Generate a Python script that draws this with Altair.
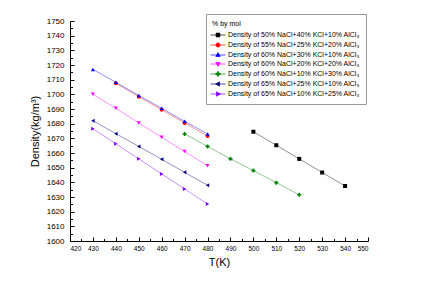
import altair as alt
import pandas as pd

series = [
    "Density of 50% NaCl+40% KCl+10% AlCl₃",
    "Density of 55% NaCl+25% KCl+20% AlCl₃",
    "Density of 60% NaCl+30% KCl+10% AlCl₃",
    "Density of 60% NaCl+20% KCl+20% AlCl₃",
    "Density of 60% NaCl+10% KCl+30% AlCl₃",
    "Density of 65% NaCl+25% KCl+10% AlCl₃",
    "Density of 65% NaCl+10% KCl+25% AlCl₃",
]
colors = ["#000000", "#ff0000", "#0000ff", "#ff00ff", "#008000", "#000080", "#8000ff"]
shapes = ["square", "circle", "triangle-up", "triangle-down", "cross", "triangle-left", "triangle-right"]
legend_paths = [
    "M-1.43,0H1.43M-0.36,-0.36H0.36V0.36H-0.36Z",
    "M-1.43,0H1.43M0.4,0A0.4,0.4 0 1,1 -0.4,0A0.4,0.4 0 1,1 0.4,0Z",
    "M-1.43,0H1.43M0,-0.46L0.42,0.3H-0.42Z",
    "M-1.43,0H1.43M0,0.46L0.42,-0.3H-0.42Z",
    "M-1.43,0H1.43M-0.13,-0.42H0.13V-0.13H0.42V0.13H0.13V0.42H-0.13V0.13H-0.42V-0.13H-0.13Z",
    "M-1.43,0H1.43M-0.46,0L0.3,-0.42V0.42Z",
    "M-1.43,0H1.43M0.46,0L-0.3,-0.42V0.42Z",
]

T1 = [500, 510, 520, 530, 540]
D1 = [1674.5, 1665.3, 1656.0, 1646.7, 1637.5]
T2 = [440, 450, 460, 470, 480]
D2 = [1707.6, 1698.4, 1689.5, 1680.5, 1671.6]
T3 = [430, 440, 450, 460, 470, 480]
D3 = [1717.0, 1708.2, 1699.2, 1690.5, 1681.6, 1673.0]
T4 = [430, 440, 450, 460, 470, 480]
D4 = [1700.0, 1690.5, 1680.5, 1670.7, 1661.0, 1651.3]
T5 = [470, 480, 490, 500, 510, 520]
D5 = [1673.0, 1664.5, 1656.0, 1648.0, 1639.8, 1631.5]
T6 = [430, 440, 450, 460, 470, 480]
D6 = [1682.0, 1673.2, 1664.5, 1655.7, 1646.8, 1638.0]
T7 = [430, 440, 450, 460, 470, 480]
D7 = [1676.5, 1666.3, 1656.0, 1645.7, 1635.5, 1625.2]

x_major = list(range(420, 551, 10))
x_minor = list(range(425, 550, 10))
y_major = list(range(1600, 1751, 10))
y_minor = list(range(1605, 1750, 10))

rows = []
for i, (T, D) in enumerate([(T1, D1), (T2, D2), (T3, D3), (T4, D4), (T5, D5), (T6, D6), (T7, D7)]):
    for t, d in zip(T, D):
        rows.append({"T": t, "D": d, "series": series[i], "col": colors[i], "shp": shapes[i]})
df = pd.DataFrame(rows)

FONT = "Liberation Sans"
W, H = 298, 220
xs = alt.Scale(domain=[420, 550], nice=False, zero=False)
ys = alt.Scale(domain=[1600, 1750], nice=False, zero=False)


def tick_axis(orient, offset, values, size):
    return alt.Axis(orient=orient, offset=offset, values=values, labels=False, domain=False,
                    ticks=True, tickSize=size, tickColor="black", tickWidth=1,
                    grid=False, title=None)


base = alt.Chart(df)

lines = base.mark_line(strokeWidth=0.8, opacity=0.55).encode(
    x=alt.X("T:Q", scale=xs, axis=alt.Axis(
        orient="bottom", values=x_major, format="d", ticks=False, tickSize=0, grid=False,
        domainColor="black", domainWidth=1, labelFontSize=6.5, labelFont=FONT,
        labelColor="black", labelPadding=4, title="T(K)", titleFont=FONT,
        titleFontSize=11, titleFontWeight="normal", titleColor="black", titlePadding=5)),
    y=alt.Y("D:Q", scale=ys, axis=alt.Axis(
        orient="left", values=y_major, format="d", ticks=False, tickSize=0, grid=False,
        domainColor="black", domainWidth=1, labelFontSize=8, labelFont=FONT,
        labelColor="black", labelPadding=6, title="Density(kg/m³)", titleFont=FONT,
        titleFontSize=11, titleFontWeight="normal", titleColor="black", titlePadding=6)),
    color=alt.Color("col:N", scale=None),
    detail="series:N",
)

points = base.mark_point(filled=True, size=16, opacity=1).encode(
    x=alt.X("T:Q", scale=xs, axis=tick_axis("top", -H, x_major, 4)),
    y=alt.Y("D:Q", scale=ys, axis=tick_axis("right", -W, y_major, 4)),
    color=alt.Color("col:N", scale=None),
    shape=alt.Shape("shp:N", scale=None),
)

leg = alt.Legend(
    title="% by mol", orient="none", legendX=136, legendY=-7,
    titleFont=FONT, titleFontSize=7, titleFontWeight="normal", titleColor="black",
    titlePadding=2, labelFont=FONT, labelFontSize=7, labelColor="black",
    labelOffset=4, labelLimit=400, symbolSize=110, rowPadding=0,
    padding=6, strokeColor="#999999", fillColor="white",
    symbolOpacity=1, symbolFillColor="white", symbolStrokeColor="white",
    symbolStrokeWidth=0.7,
)

legend_layer = base.mark_point(filled=True, opacity=0).encode(
    x=alt.X("T:Q", scale=xs, axis=tick_axis("top", -H, x_minor, 2.5)),
    y=alt.Y("D:Q", scale=ys, axis=tick_axis("right", -W, y_minor, 2.5)),
    fill=alt.Fill("series:N", scale=alt.Scale(domain=series, range=colors), legend=leg),
    stroke=alt.Stroke("series:N", scale=alt.Scale(domain=series, range=colors), legend=leg),
    shape=alt.Shape("series:N", scale=alt.Scale(domain=series, range=legend_paths), legend=leg),
)

chart = alt.layer(lines, points, legend_layer).resolve_axis(
    x="independent", y="independent"
).properties(
    width=W, height=H,
    autosize=alt.AutoSizeParams(type="none"),
    padding={"left": 62, "top": 13, "right": 50, "bottom": 35},
    background="white",
).configure_view(strokeWidth=0)

chart.save("out.html", embed_options={"renderer": "svg", "actions": False})
